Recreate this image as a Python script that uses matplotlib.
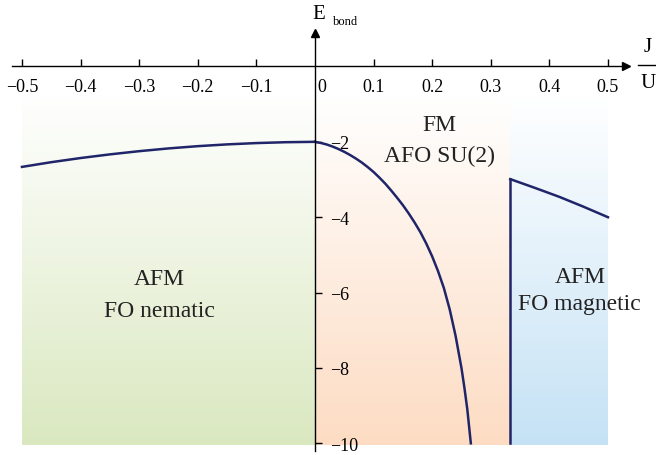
import numpy as np
import matplotlib.pyplot as plt
from matplotlib.colors import to_rgb
from matplotlib.lines import Line2D

plt.rcParams['font.family'] = ['Liberation Serif', 'DejaVu Serif']

# curves (J/U, E_bond)
left_J = [-0.5, -0.45, -0.4, -0.35, -0.3, -0.25, -0.2, -0.15, -0.1, -0.05, 0.0]
left_E = [-2.665, -2.54, -2.43, -2.333, -2.248, -2.175, -2.115, -2.068, -2.033, -2.01, -2.0]
mid_J = [0.0, 0.01, 0.02, 0.03, 0.04, 0.05, 0.06, 0.07, 0.08, 0.09, 0.10, 0.11,
         0.12, 0.13, 0.14, 0.15, 0.16, 0.17, 0.18, 0.19, 0.20, 0.21, 0.22,
         0.23, 0.24, 0.25, 0.255, 0.26, 0.266]
mid_E = [-2.0, -2.03, -2.07, -2.125, -2.19, -2.265, -2.35, -2.445, -2.55, -2.67,
         -2.80, -2.95, -3.11, -3.29, -3.48, -3.68, -3.90, -4.14, -4.40, -4.70,
         -5.04, -5.43, -5.88, -6.45, -7.15, -8.0, -8.52, -9.1, -10.0]
right_J = [1/3, 0.375, 0.417, 0.458, 0.5]
right_E = [-2.99, -3.22, -3.46, -3.72, -4.0]
J_border = 1/3
E_bottom = -10.0

xticks = [-0.5, -0.4, -0.3, -0.2, -0.1, 0.1, 0.2, 0.3, 0.4, 0.5]
yticks = [-2, -4, -6, -8, -10]

regions = [(-0.5, 0.0, '#dae8c0'), (0.0, J_border, '#fddcc3'), (J_border, 0.5, '#c5e2f5')]

fig = plt.figure(figsize=(6.56, 4.56), dpi=100)
ax = fig.add_axes([0, 0, 1, 1])
ax.set_xlim(-0.5375, 0.582)
ax.set_ylim(-10.31, 1.79)

# gradient backgrounds
for x0, x1, col in regions:
    c = np.array(to_rgb(col))
    t = np.linspace(0, 1, 256)[:, None]
    top = np.array([1.0, 1.0, 1.0])
    img = top + (c - top) * t
    ax.imshow(img[:, None, :], extent=[x0, x1, -10.05, -0.75], aspect='auto',
              origin='upper', zorder=0)

navy = '#1f2568'
ax.plot(left_J, left_E, color=navy, lw=1.8, zorder=3)
ax.plot(mid_J, mid_E, color=navy, lw=1.8, zorder=3)
ax.plot(right_J, right_E, color=navy, lw=1.8, zorder=3)
ax.plot([J_border, J_border], [right_E[0], E_bottom], color=navy, lw=1.8, zorder=3)

# axes through origin
for s in ['left', 'top']:
    ax.spines[s].set_visible(False)
ax.spines['bottom'].set_position(('data', 0))
ax.spines['right'].set_position(('data', 0))
ax.spines['bottom'].set_bounds(-0.517, 0.53)
ax.spines['right'].set_bounds(-10.2, 0.9)
for s in ['bottom', 'right']:
    ax.spines[s].set_linewidth(1.0)
    ax.spines[s].set_zorder(4)
ax.plot(0.53, 0, marker='>', color='k', ms=6, clip_on=False, zorder=5)
ax.plot(0, 0.9, marker='^', color='k', ms=6, clip_on=False, zorder=5)

ax.yaxis.tick_right()
ax.set_xticks(xticks)
ax.set_xticklabels([f'{v:g}'.replace('-', '\u2212') for v in xticks])
ax.set_yticks(yticks)
ax.set_yticklabels([f'{v:g}'.replace('-', '\u2212') for v in yticks])
ax.tick_params(axis='x', direction='in', length=5, width=1, pad=8, labelsize=13)
ax.tick_params(axis='y', direction='out', length=5, width=1, pad=6, labelsize=13)
ax.text(0.012, -0.3, '0', fontsize=13, ha='center', va='top')

ax.text(-0.005, 1.4, 'E', fontsize=15, ha='left', va='center')
ax.text(0.03, 1.2, 'bond', fontsize=9, ha='left', va='center')

fig.text(648 / 656, 1 - 47 / 456, 'J', fontsize=15, ha='center', va='center')
fig.text(648 / 656, 1 - 83 / 456, 'U', fontsize=15, ha='center', va='center')
fig.add_artist(Line2D([638 / 656, 658 / 656], [1 - 66 / 456, 1 - 66 / 456],
                      transform=fig.transFigure, color='k', lw=1))

ax.text(-0.265, -6.05, 'AFM\nFO nematic', fontsize=17, ha='center', va='center',
        linespacing=1.65, color='#222222')
ax.text(0.213, -1.95, 'FM\nAFO SU(2)', fontsize=17, ha='center', va='center',
        linespacing=1.65, color='#222222')
ax.text(0.452, -5.93, 'AFM\nFO magnetic', fontsize=17, ha='center', va='center',
        linespacing=1.4, color='#222222')

fig.savefig('out.png', dpi=100)
